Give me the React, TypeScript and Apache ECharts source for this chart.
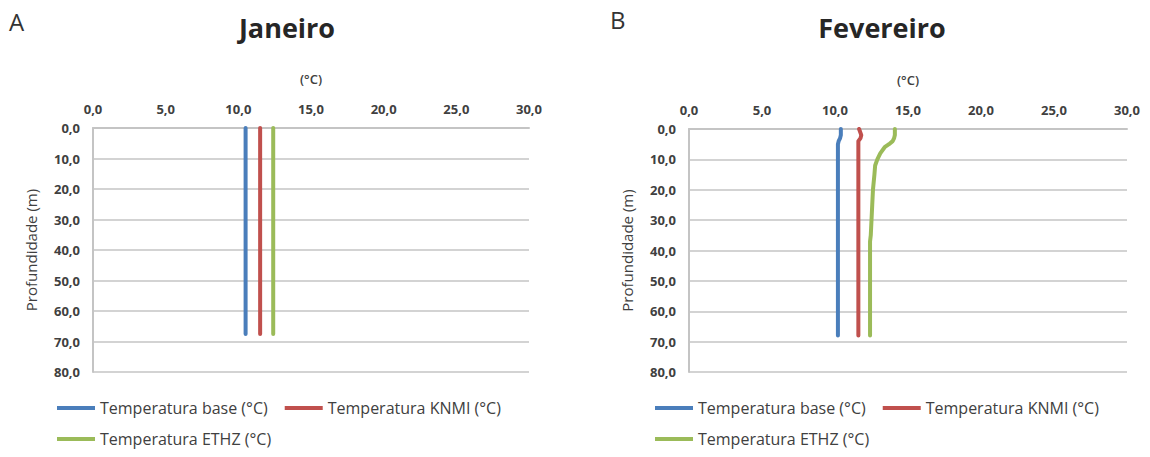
import React, { useEffect, useRef } from "react";
import * as echarts from "echarts";

const xTicks = [0, 5, 10, 15, 20, 25, 30];
const yTicks = [0, 10, 20, 30, 40, 50, 60, 70, 80];

const seriesNames = ["Temperatura base (°C)", "Temperatura KNMI (°C)", "Temperatura ETHZ (°C)"];
const colors = ["#4a7ebb", "#c0504d", "#9bbb59"];

// Janeiro (A)
const janDepths = [0, 10, 20, 30, 40, 50, 60, 67.5];
const janBase = [10.5, 10.5, 10.5, 10.5, 10.5, 10.5, 10.5, 10.5];
const janKnmi = [11.5, 11.5, 11.5, 11.5, 11.5, 11.5, 11.5, 11.5];
const janEthz = [12.4, 12.4, 12.4, 12.4, 12.4, 12.4, 12.4, 12.4];

// Fevereiro (B)
const febDepths = [0, 2, 3, 4, 5, 6, 8, 10, 12, 15, 20, 25, 30, 35, 37, 40, 50, 60, 68];
const febBase = [10.4, 10.4, 10.35, 10.25, 10.2, 10.2, 10.2, 10.2, 10.2, 10.2, 10.2, 10.2, 10.2, 10.2, 10.2, 10.2, 10.2, 10.2, 10.2];
const febKnmi = [11.65, 11.8, 11.75, 11.6, 11.6, 11.6, 11.6, 11.6, 11.6, 11.6, 11.6, 11.6, 11.6, 11.6, 11.6, 11.6, 11.6, 11.6, 11.6];
const febEthz = [14.1, 14.1, 14.05, 13.95, 13.7, 13.4, 13.1, 12.9, 12.75, 12.7, 12.6, 12.55, 12.5, 12.45, 12.4, 12.4, 12.4, 12.4, 12.4];

const FONT = "Open Sans";
const TXT = "#404040";
const GRIDC = "#c4c4c4";

const fmt = (v: number) => v.toFixed(1).replace(".", ",");

function pairs(temps: number[], depths: number[]) {
  return temps.map((t, i) => [t, depths[i]]);
}

export default function App() {
  const ref = useRef<HTMLDivElement>(null);
  useEffect(() => {
    document.body.style.margin = "0";
    const chart = echarts.init(ref.current!, undefined, { renderer: "svg" });

    const grids = [
      { left: 93, top: 128, width: 436, height: 244 },
      { left: 689, top: 129, width: 438, height: 243 },
    ];

    const xAxes = grids.map((_, i) => ({
      type: "value",
      gridIndex: i,
      position: "top",
      min: xTicks[0],
      max: xTicks[xTicks.length - 1],
      interval: 5,
      name: "(°C)",
      nameLocation: "middle",
      nameGap: 43,
      nameTextStyle: { fontFamily: FONT, fontSize: 13, color: TXT, fontWeight: 600 },
      axisLine: { show: true, lineStyle: { color: GRIDC, width: 2 } },
      axisTick: { show: false },
      splitLine: { show: false },
      axisLabel: { formatter: fmt, margin: 13, fontFamily: FONT, fontSize: 13, fontWeight: "bold", color: TXT },
    }));

    const yAxes = grids.map((_, i) => ({
      type: "value",
      gridIndex: i,
      inverse: true,
      min: yTicks[0],
      max: yTicks[yTicks.length - 1],
      interval: 10,
      name: "Profundidade (m)",
      nameLocation: "middle",
      nameGap: 55,
      nameTextStyle: { fontFamily: FONT, fontSize: 15, color: TXT },
      axisLine: { show: true, lineStyle: { color: GRIDC, width: 2 } },
      axisTick: { show: false },
      splitLine: { show: true, lineStyle: { color: GRIDC, width: 1.5 } },
      axisLabel: { formatter: fmt, margin: 13, fontFamily: FONT, fontSize: 13, fontWeight: "bold", color: TXT },
    }));

    const data = [
      [pairs(janBase, janDepths), pairs(janKnmi, janDepths), pairs(janEthz, janDepths)],
      [pairs(febBase, febDepths), pairs(febKnmi, febDepths), pairs(febEthz, febDepths)],
    ];

    const series: any[] = [];
    data.forEach((panel, gi) => {
      panel.forEach((d, si) => {
        series.push({
          type: "line",
          name: seriesNames[si],
          xAxisIndex: gi,
          yAxisIndex: gi,
          data: d,
          symbol: "none",
          color: colors[si],
          lineStyle: { width: 4, color: colors[si], cap: "round", join: "round" },
        });
      });
    });

    const legendBase = {
      icon: "rect",
      itemWidth: 38,
      itemHeight: 4,
      itemGap: 17,
      itemTextGap: 2,
      padding: 0,
      selectedMode: false,
      textStyle: { fontFamily: FONT, fontSize: 16, color: TXT },
      orient: "horizontal",
    };

    const legends = [
      { ...legendBase, left: 57, top: 400, data: [seriesNames[0], seriesNames[1]] },
      { ...legendBase, left: 57, top: 431, data: [seriesNames[2]] },
      { ...legendBase, left: 655, top: 400, data: [seriesNames[0], seriesNames[1]] },
      { ...legendBase, left: 655, top: 431, data: [seriesNames[2]] },
    ];

    chart.setOption({
      animation: false,
      backgroundColor: "#ffffff",
      title: [
        { text: "Janeiro", left: 282, top: 9, textAlign: "center", textStyle: { fontFamily: FONT, fontSize: 27, fontWeight: "bold", color: "#262626" } },
        { text: "Fevereiro", left: 877, top: 9, textAlign: "center", textStyle: { fontFamily: FONT, fontSize: 27, fontWeight: "bold", color: "#262626" } },
        { text: "A", left: 9, top: 8, padding: 0, textStyle: { fontFamily: FONT, fontSize: 24, fontWeight: "normal", color: "#333333", lineHeight: 26 } },
        { text: "B", left: 610, top: 6, padding: 0, textStyle: { fontFamily: FONT, fontSize: 24, fontWeight: "normal", color: "#333333", lineHeight: 26 } },
      ],
      grid: grids,
      xAxis: xAxes,
      yAxis: yAxes,
      legend: legends,
      series,
    });

    return () => chart.dispose();
  }, []);

  return <div ref={ref} style={{ width: 1150, height: 457 }} />;
}
